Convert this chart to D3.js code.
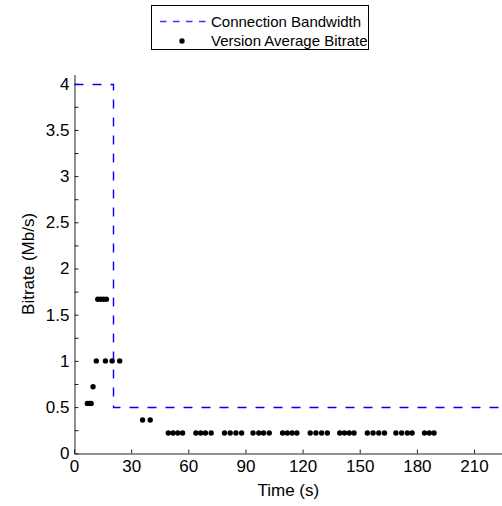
<!DOCTYPE html>
<html lang="en">
<head>
    <meta charset="UTF-8">
    <title>Bitrate vs Time</title>
    <style>
        body {
            margin: 0;
            background: #fff;
            font-family: "Liberation Sans", Arial, sans-serif;
        }
        text {
            font-family: "Liberation Sans", Arial, sans-serif;
        }
    </style>
</head>
<body>
<script src="https://d3js.org/d3.v7.min.js"></script>
<script>
    // Connection bandwidth (step)
    const bwTimes = [0, 20.5, 20.5, 225];
    const bwValues = [4, 4, 0.5, 0.5];

    // Version average bitrate samples
    const rateTimes = [7, 8, 9, 10, 11.7, 12.5, 14, 15.5, 17, 16.5, 20, 24, 36, 40,
        49.5, 52, 54.5, 57,
        64, 66.5, 69, 72,
        79, 82, 85, 88,
        94, 97, 99.5, 102.5,
        109.5, 112, 114.5, 117,
        124, 127, 130, 133,
        139.5, 142, 144.5, 147,
        154, 157, 160, 163,
        169, 172, 175, 177.5,
        184, 186.5, 189];
    const rateValues = [0.54, 0.54, 0.54, 0.72, 1, 1.667, 1.667, 1.667, 1.667, 1, 1, 1, 0.36, 0.36,
        0.22, 0.22, 0.22, 0.22,
        0.22, 0.22, 0.22, 0.22,
        0.22, 0.22, 0.22, 0.22,
        0.22, 0.22, 0.22, 0.22,
        0.22, 0.22, 0.22, 0.22,
        0.22, 0.22, 0.22, 0.22,
        0.22, 0.22, 0.22, 0.22,
        0.22, 0.22, 0.22, 0.22,
        0.22, 0.22, 0.22, 0.22,
        0.22, 0.22, 0.22];

    const xTicks = [0, 30, 60, 90, 120, 150, 180, 210];
    const yTicks = [0, 0.25, 0.5, 0.75, 1, 1.25, 1.5, 1.75, 2, 2.25, 2.5, 2.75, 3, 3.25, 3.5, 3.75, 4];
    const yLabels = [0, 0.5, 1, 1.5, 2, 2.5, 3, 3.5, 4];

    const width = 502;
    const height = 506;

    const svg = d3.select("body")
        .append("svg")
        .attr("width", width)
        .attr("height", height);

    const x = d3.scaleLinear().domain([0, 225]).range([74, 502.6]);
    const y = d3.scaleLinear().domain([0, 4.1]).range([453.3, 74.5]);

    // axes (ticks point inward)
    const xAxis = d3.axisBottom(x).tickValues(xTicks).tickSize(-4).tickSizeOuter(0).tickPadding(6);
    const yAxis = d3.axisLeft(y).tickValues(yTicks).tickSize(-4).tickSizeOuter(0).tickPadding(5)
        .tickFormat(d => yLabels.includes(d) ? d3.format("")(d) : "");

    const gx = svg.append("g")
        .attr("transform", "translate(0,453.5)")
        .call(xAxis);
    const gy = svg.append("g")
        .attr("transform", "translate(74.5,0)")
        .call(yAxis);

    [gx, gy].forEach(g => {
        g.attr("font-family", null).attr("font-size", null);
        g.select(".domain").attr("stroke", "#222");
        g.selectAll(".tick line").attr("stroke", "#222");
        g.selectAll("text")
            .attr("fill", "#000")
            .style("font-size", "17px");
    });

    // bandwidth line, snapped to pixel centres
    const snap = v => Math.round(v) + 0.5;
    const line = d3.line()
        .x((d, i) => snap(x(bwTimes[i])))
        .y((d, i) => snap(y(bwValues[i])));
    svg.append("path")
        .datum(bwTimes)
        .attr("d", line)
        .attr("fill", "none")
        .attr("stroke", "#0000ff")
        .attr("stroke-width", 1.4)
        .attr("stroke-dasharray", "9,9");

    // bitrate points
    svg.selectAll("circle.pt")
        .data(rateTimes)
        .enter()
        .append("circle")
        .attr("class", "pt")
        .attr("cx", (d, i) => x(d))
        .attr("cy", (d, i) => y(rateValues[i]))
        .attr("r", 2.7)
        .attr("fill", "#000");

    // axis titles
    svg.append("text")
        .attr("x", x(112.5))
        .attr("y", 496)
        .attr("text-anchor", "middle")
        .style("font-size", "17px")
        .text("Time (s)");

    svg.append("text")
        .attr("transform", "translate(34," + y(2.05) + ") rotate(-90)")
        .attr("text-anchor", "middle")
        .style("font-size", "17px")
        .text("Bitrate (Mb/s)");

    // legend
    const legend = svg.append("g");
    legend.append("rect")
        .attr("x", 151.5)
        .attr("y", 5.5)
        .attr("width", 217)
        .attr("height", 44)
        .attr("fill", "#fff")
        .attr("stroke", "#000");
    legend.append("line")
        .attr("x1", 160).attr("x2", 208)
        .attr("y1", 21.5).attr("y2", 21.5)
        .attr("stroke", "#3333ff")
        .attr("stroke-width", 1.4)
        .attr("stroke-dasharray", "6.5,6.5");
    legend.append("circle")
        .attr("cx", 182).attr("cy", 41)
        .attr("r", 2.7)
        .attr("fill", "#000");
    legend.append("text")
        .attr("x", 211).attr("y", 27)
        .style("font-size", "15px")
        .text("Connection Bandwidth");
    legend.append("text")
        .attr("x", 211).attr("y", 46)
        .style("font-size", "15px")
        .text("Version Average Bitrate");
</script>
</body>
</html>
